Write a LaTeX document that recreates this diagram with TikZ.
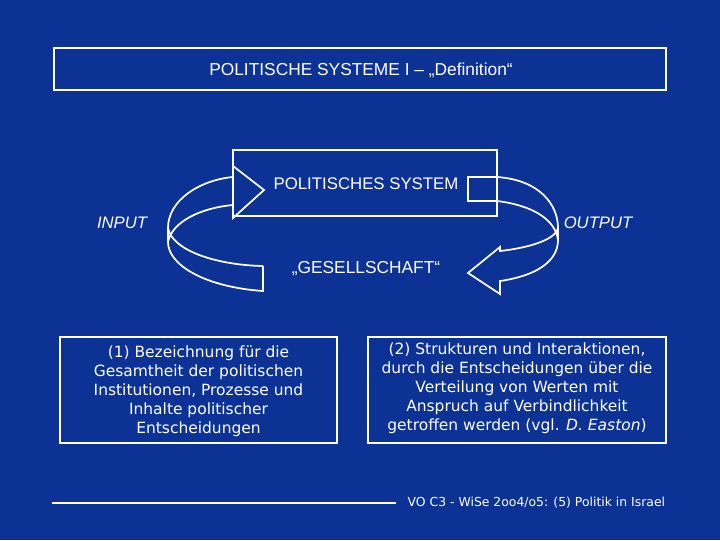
\documentclass[tikz,border=0pt]{standalone}
\usepackage{fontspec}
\setmainfont{Liberation Sans}
\newfontfamily\dv{DejaVu Sans}
\definecolor{bg}{RGB}{12,50,150}
\begin{document}
\begin{tikzpicture}[x=0.75pt,y=-0.75pt,
  bx/.style={draw=white,line width=1pt},
  ln/.style={draw=white,line width=1.3pt,line join=miter},
  txt/.style={text=white,font=\fontsize{12.6}{14}\selectfont},
  body/.style={text=white,align=center,inner sep=0pt,font=\dv\fontsize{11.6}{14.25}\selectfont}]
\fill[bg] (0,0) rectangle (720,540);
\useasboundingbox (0,0) rectangle (720,540);
\node[bx,minimum width=612*0.75pt,minimum height=42*0.75pt] (title) at (360,69) {};
\node[txt,font=\fontsize{13}{14}\selectfont] (tt) at (361,70) {POLITISCHE SYSTEME I – „Definition“};
\node[bx,minimum width=264*0.75pt,minimum height=66*0.75pt] (sys) at (365,183) {};
\node[txt] (st) at (366,184) {POLITISCHES SYSTEM};
\node[txt,font=\itshape\fontsize{12.5}{14}\selectfont] (in) at (122,223) {INPUT};
\node[txt,font=\itshape\fontsize{12.5}{14}\selectfont] (out) at (598,223) {OUTPUT};
\node[txt,font=\fontsize{13}{14}\selectfont] (ges) at (366,269) {„GESELLSCHAFT“};
% left arrow
\draw[ln] (263,266) -- (263,291) .. controls (205,287) and (168,265) .. (168,242) -- (168,228)
  .. controls (168,200) and (200,180) .. (233,177) -- (233,166) -- (264,190) -- (233,218) -- (233,205)
  .. controls (200,208) and (172,222) .. (168,242);
\draw[ln] (168,228) .. controls (172,250) and (215,265) .. (263,266);
% right arrow
\draw[ln] (497,177) -- (468,177) -- (468,201) -- (497,201);
\draw[ln] (497,177) .. controls (540,180) and (558,205) .. (558,228) -- (558,240)
  .. controls (558,262) and (535,276) .. (500,281) -- (500,294) -- (468,273) -- (500,247) -- (500,251)
  .. controls (535,247) and (556,238) .. (558,228);
\draw[ln] (497,201) .. controls (530,205) and (555,218) .. (558,240);
% lower boxes
\node[bx,minimum width=277*0.75pt,minimum height=106*0.75pt] (b1) at (198.5,390) {};
\node[body] (t1) at (198.5,391) {(1) Bezeichnung für die\\Gesamtheit der politischen\\Institutionen, Prozesse und\\Inhalte politischer\\Entscheidungen};
\node[bx,minimum width=298*0.75pt,minimum height=106*0.75pt] (b2) at (517,390) {};
\node[body] (t2) at (517,388) {(2) Strukturen und Interaktionen,\\durch die Entscheidungen über die\\Verteilung von Werten mit\\Anspruch auf Verbindlichkeit\\getroffen werden (vgl. \textit{D. Easton})};
\coordinate (f1) at (52,503);
\coordinate (f2) at (396,503);
\draw[white,line width=0.8pt] (f1) -- (f2);
\node[text=white,font=\dv\fontsize{9.3}{10}\selectfont,anchor=west] (foot) at (403,503) {VO C3 - WiSe 2oo4/o5: (5) Politik in Israel};
\end{tikzpicture}
\end{document}
